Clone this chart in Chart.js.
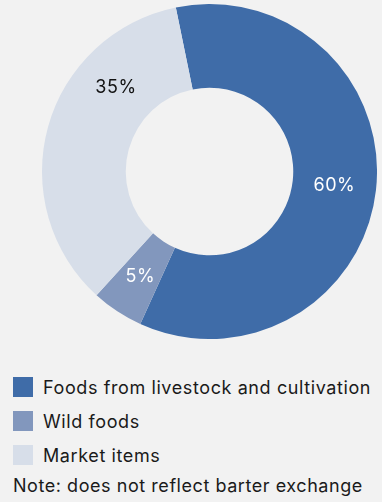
<!DOCTYPE html>
<html>
<head>
<meta charset="utf-8">
<script src="https://cdn.jsdelivr.net/npm/chart.js@4"></script>
<style>
  html, body { margin: 0; padding: 0; }
  body { width: 382px; height: 502px; background: #f2f2f2; position: relative; overflow: hidden;
         font-family: Inter, "Noto Sans", sans-serif; color: #1a1a1a; }
  #wrap { position: absolute; left: 42px; top: 4px; width: 335px; height: 335px; }
  #legend { position: absolute; left: 13px; top: 370px; }
  .item { display: flex; align-items: center; height: 34px; font-size: 18px; letter-spacing: 0.6px; white-space: nowrap; }
  .box { width: 20px; height: 20px; margin-right: 10px; }
  #note { position: absolute; left: 13px; top: 475px; font-size: 18px; letter-spacing: 0.55px; white-space: nowrap; }
</style>
</head>
<body>
<div id="wrap"><canvas id="chart"></canvas></div>
<div id="legend"></div>
<div id="note">Note: does not reflect barter exchange</div>
<script>
const categories = ["Foods from livestock and cultivation", "Wild foods", "Market items"];
const shares = [60, 5, 35];
const colors = ["#3f6ca8", "#8297bd", "#d7dee9"];
const labelColors = ["#ffffff", "#ffffff", "#111111"];
// where along each slice the percentage sits (0..1)
const labelAt = [0.5, 0.5, 0.71];

const sliceLabels = {
  id: "sliceLabels",
  afterDatasetsDraw(chart) {
    const ctx = chart.ctx;
    const meta = chart.getDatasetMeta(0);
    ctx.save();
    ctx.font = "18px Inter, 'Noto Sans', sans-serif";
    ctx.letterSpacing = "0.5px";
    ctx.textAlign = "center";
    ctx.textBaseline = "middle";
    meta.data.forEach((arc, i) => {
      const p = arc.getProps(["x", "y", "startAngle", "endAngle", "innerRadius", "outerRadius"], true);
      const a = p.startAngle + (p.endAngle - p.startAngle) * labelAt[i];
      const r = (p.innerRadius + p.outerRadius) / 2;
      ctx.fillStyle = labelColors[i];
      ctx.fillText(shares[i] + "%", p.x + Math.cos(a) * r, p.y + Math.sin(a) * r);
    });
    ctx.restore();
  }
};

const chart = new Chart(document.getElementById("chart"), {
  type: "doughnut",
  data: {
    labels: categories,
    datasets: [{
      data: shares,
      backgroundColor: colors,
      borderWidth: 0,
      hoverOffset: 0
    }]
  },
  options: {
    responsive: true,
    maintainAspectRatio: false,
    animation: false,
    rotation: -11.6,
    cutout: "50%",
    layout: { padding: 0 },
    plugins: {
      legend: { display: false },
      tooltip: { enabled: false }
    }
  },
  plugins: [sliceLabels]
});

const lg = document.getElementById("legend");
categories.forEach((c, i) => {
  lg.innerHTML += `<div class="item"><div class="box" style="background:${colors[i]}"></div><span>${c}</span></div>`;
});
</script>
</body>
</html>
